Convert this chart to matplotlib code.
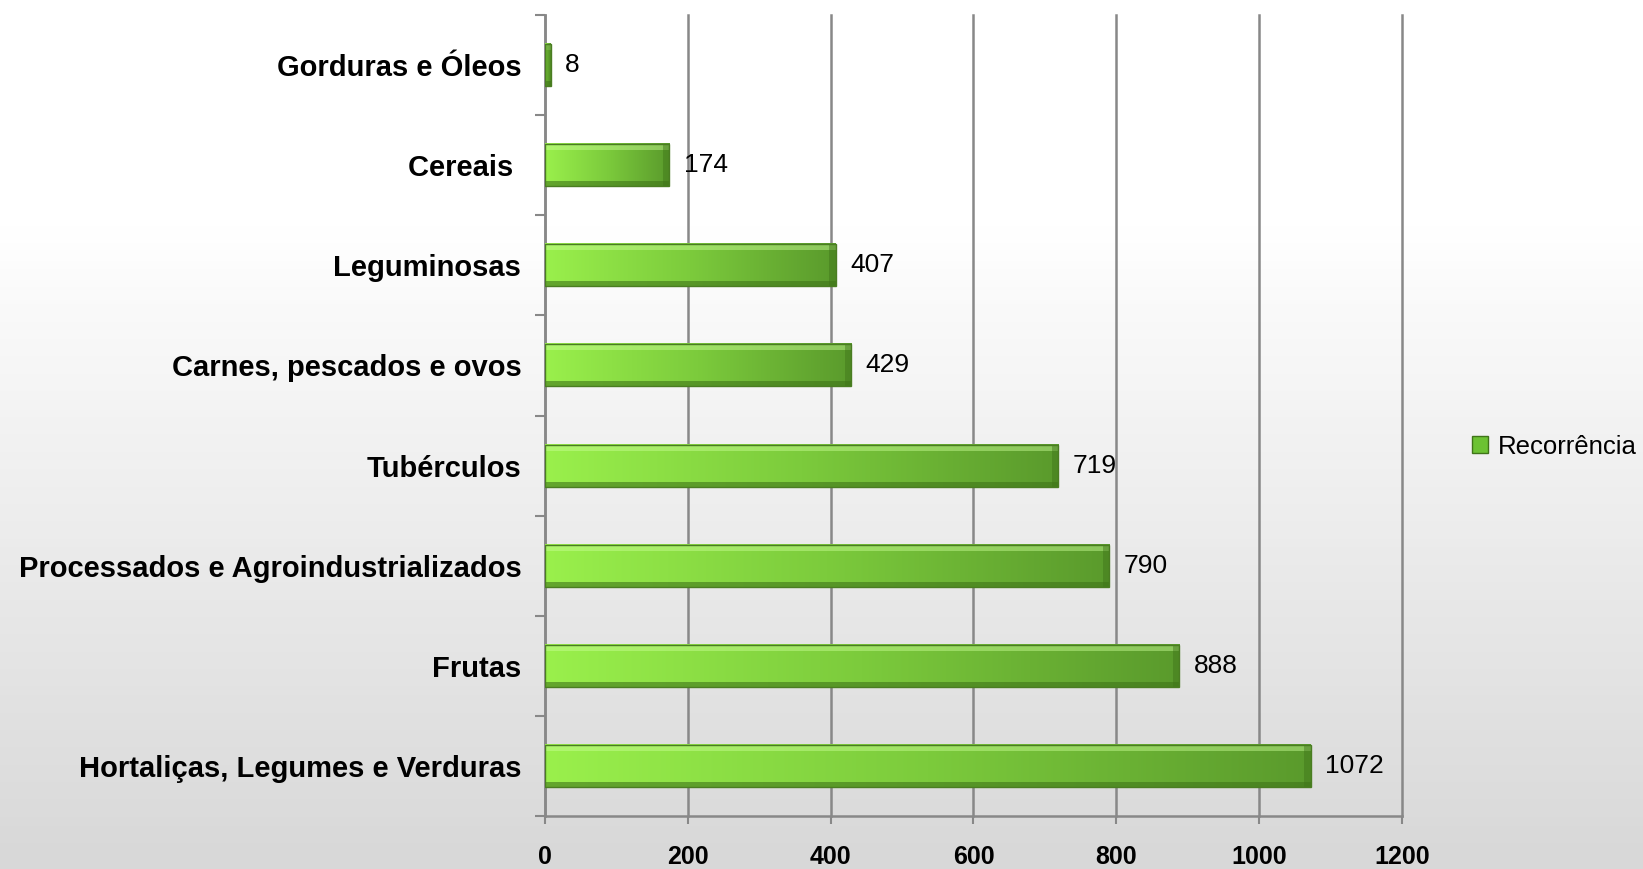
import matplotlib
matplotlib.use("Agg")
import matplotlib.pyplot as plt
import numpy as np
from matplotlib.colors import LinearSegmentedColormap
from matplotlib.patches import Rectangle, Patch

categorias = ["Hortaliças, Legumes e Verduras", "Frutas",
              "Processados e Agroindustrializados", "Tubérculos",
              "Carnes, pescados e ovos", "Leguminosas", "Cereais ",
              "Gorduras e Óleos"]
valores = [1072, 888, 790, 719, 429, 407, 174, 8]
xticks = [0, 200, 400, 600, 800, 1000, 1200]
serie = "Recorrência"

plt.rcParams['font.family'] = ['Liberation Sans', 'DejaVu Sans']

fig = plt.figure(figsize=(16.43, 8.69), dpi=100)

# background gradient white -> light gray
bg = fig.add_axes([0, 0, 1, 1], zorder=-10)
grad = np.concatenate([np.zeros(25), np.linspace(0, 1, 75)]).reshape(-1, 1)
bg_cmap = LinearSegmentedColormap.from_list('bg', ['#ffffff', '#d8d8d8'])
bg.imshow(grad, aspect='auto', cmap=bg_cmap, extent=(0, 1, 0, 1), origin='upper')
bg.set_axis_off()

ax = fig.add_axes([0.3317, 0.061, 0.5216, 0.9217])
ax.set_facecolor('none')

bar_cmap = LinearSegmentedColormap.from_list('bar', ['#9af04c', '#7ccb3c', '#5a9a2c'])
h = 0.42
y = np.arange(len(valores))
bars = ax.barh(y, valores, height=h, color='none', edgecolor='none', zorder=3)
for yi, v in zip(y, valores):
    g = np.linspace(0, 1, 256).reshape(1, -1)
    ax.imshow(g, aspect='auto', cmap=bar_cmap, extent=(0, v, yi - h / 2, yi + h / 2),
              zorder=3, interpolation='bilinear')
    # bevel: light top, dark bottom, dark right end
    ax.add_patch(Rectangle((0, yi + h / 2 - 0.06), v, 0.06, color='#ccff99', alpha=0.45, lw=0, zorder=4))
    ax.add_patch(Rectangle((0, yi - h / 2), v, 0.05, color='#3f7419', alpha=0.6, lw=0, zorder=4))
    ax.add_patch(Rectangle((max(v - 9, 0), yi - h / 2), min(9, v), h, color='#3f7419', alpha=0.45, lw=0, zorder=4))
    ax.add_patch(Rectangle((0, yi - h / 2), v, h, fill=False, ec='#4a7d22', lw=1, zorder=5))
    ax.text(v + 20, yi, str(v), va='center', ha='left', fontsize=19, color='black', zorder=6)

ax.set_xlim(0, 1200)
ax.set_ylim(-0.5, len(valores) - 0.5)

ax.set_xticks(xticks)
ax.set_xticklabels([str(t) for t in xticks], fontsize=18, fontweight='bold')
ax.tick_params(axis='x', length=6, width=1.5, color='#888888', pad=15)
ax.xaxis.grid(True, color='#888888', lw=1.8, zorder=0)
for gl in ax.get_xgridlines():
    gl.set_clip_on(False)
ax.set_axisbelow(True)

ax.set_yticks(y)
ax.set_yticklabels(categorias, fontsize=21, fontweight='bold')
ax.set_yticks(np.arange(-0.5, len(valores)), minor=True)
ax.tick_params(axis='y', which='major', length=0, pad=17)
ax.tick_params(axis='y', which='minor', length=7, width=1.5, color='#888888')

for s in ['top', 'right']:
    ax.spines[s].set_visible(False)
for s in ['left', 'bottom']:
    ax.spines[s].set_color('#888888')
    ax.spines[s].set_linewidth(1.8)

leg = ax.legend(handles=[Patch(facecolor='#6cc233', edgecolor='#3f7419', label=serie)],
                loc='center left', bbox_to_anchor=(0.882, 0.486), bbox_transform=fig.transFigure,
                frameon=False, fontsize=18.5, handlelength=0.6, handleheight=0.6, handletextpad=0.4)

fig.savefig('out.png', dpi=100)
